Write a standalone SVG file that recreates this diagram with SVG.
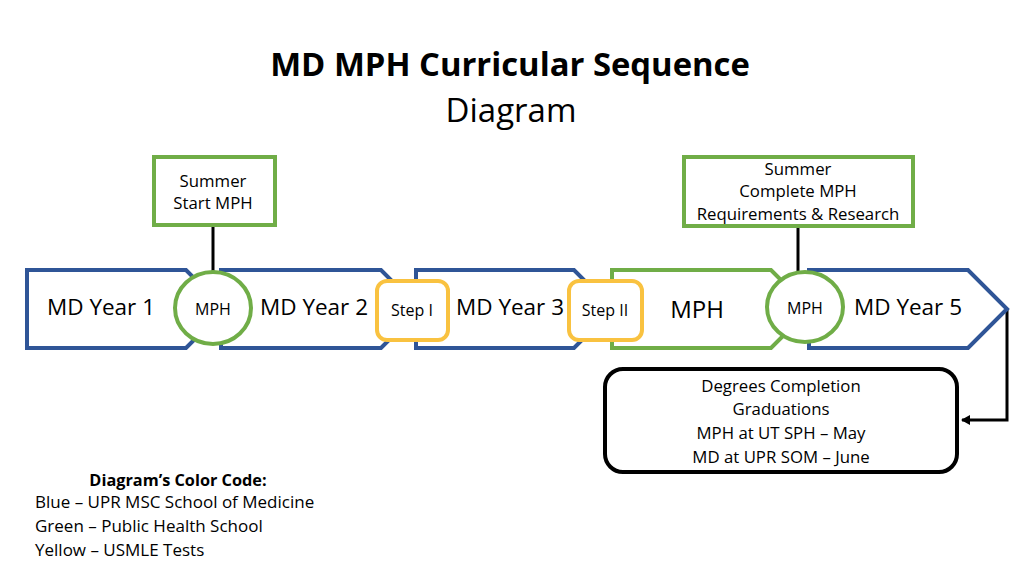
<svg xmlns="http://www.w3.org/2000/svg" width="1024" height="574" viewBox="0 0 1024 574">
<defs>
<style>
text{font-family:"Open Sans","Liberation Sans",sans-serif;fill:#000;text-anchor:middle}
.chev{fill:#fff;stroke:#2F5597;stroke-width:4;stroke-linejoin:miter}
.gchev{fill:#fff;stroke:#70AD47;stroke-width:4}
.gbox{fill:#fff;stroke:#70AD47;stroke-width:4}
.ybox{fill:#fff;stroke:#F9C240;stroke-width:4}
.big{font-size:22.5px}
.sm{font-size:16px}
.md{font-size:16.8px}
.leg{font-size:17px;text-anchor:start}
.conn{stroke:#000;stroke-width:3;fill:none}
</style>
<marker id="ah" markerWidth="10" markerHeight="10" refX="8" refY="5" orient="auto" markerUnits="userSpaceOnUse">
<path d="M0,0 L9,5 L0,10 z" fill="#000"/>
</marker>
</defs>
<rect width="1024" height="574" fill="#fff"/>
<g id="title">
<text x="510" y="76" style="font-size:32.8px;font-weight:bold">MD MPH Curricular Sequence</text>
<text x="511" y="122" style="font-size:33px">Diagram</text>
</g>
<g id="connectors">
<line class="conn" x1="213" y1="226" x2="213" y2="274"/>
<line class="conn" x1="798" y1="227" x2="798" y2="274"/>
<polyline class="conn" points="1007,309 1007,420 962,420" marker-end="url(#ah)"/>
</g>
<g id="year1"><path class="chev" d="M27,270 H186 L225,309 L186,348 H27 Z"/><text class="big" x="101" y="315">MD Year 1</text></g>
<g id="year2"><path class="chev" d="M221,270 H381 L420,309 L381,348 H221 Z"/><text class="big" x="314" y="315">MD Year 2</text></g>
<g id="year3"><path class="chev" d="M416,270 H574 L613,309 L574,348 H416 Z"/><text class="big" x="510" y="315">MD Year 3</text></g>
<g id="mphchev"><path class="gchev" d="M612,270 H771 L810,309 L771,348 H612 Z"/><text x="697" y="318" style="font-size:24px">MPH</text></g>
<g id="year5"><path class="chev" d="M809,270 H968 L1007,309 L968,348 H809 Z"/><text class="big" x="908" y="315">MD Year 5</text></g>
<g id="mph1"><ellipse class="gbox" cx="213" cy="308" rx="38" ry="36"/><text class="sm" x="213" y="315">MPH</text></g>
<g id="mph2"><ellipse class="gbox" cx="805" cy="307" rx="38" ry="35"/><text class="sm" x="805" y="314">MPH</text></g>
<g id="step1"><rect class="ybox" x="377" y="281" width="71" height="59" rx="10"/><text class="sm" x="412" y="316">Step I</text></g>
<g id="step2"><rect class="ybox" x="569" y="281" width="73" height="59" rx="10"/><text class="sm" x="605" y="316">Step II</text></g>
<g id="summer1"><rect class="gbox" x="154" y="157" width="121" height="68"/><text class="md" x="213" y="187">Summer</text><text class="md" x="213" y="209">Start MPH</text></g>
<g id="summer2"><rect class="gbox" x="684" y="157" width="229" height="69"/><text class="md" x="798" y="175">Summer</text><text class="md" x="798" y="197">Complete MPH</text><text class="md" x="798" y="220">Requirements &amp; Research</text></g>
<g id="grad"><rect x="605" y="369" width="352" height="103" rx="18" fill="#fff" stroke="#000" stroke-width="4"/>
<text class="md" x="781" y="392">Degrees Completion</text>
<text class="md" x="781" y="415">Graduations</text>
<text class="md" x="781" y="439">MPH at UT SPH – May</text>
<text class="md" x="781" y="463">MD at UPR SOM – June</text></g>
<g id="legend">
<text x="178" y="486" style="font-size:16.3px;font-weight:bold">Diagram’s Color Code:</text>
<text class="leg" x="35" y="508">Blue – UPR MSC School of Medicine</text>
<text class="leg" x="35" y="532">Green – Public Health School</text>
<text class="leg" x="35" y="556">Yellow – USMLE Tests</text>
</g>
</svg>
